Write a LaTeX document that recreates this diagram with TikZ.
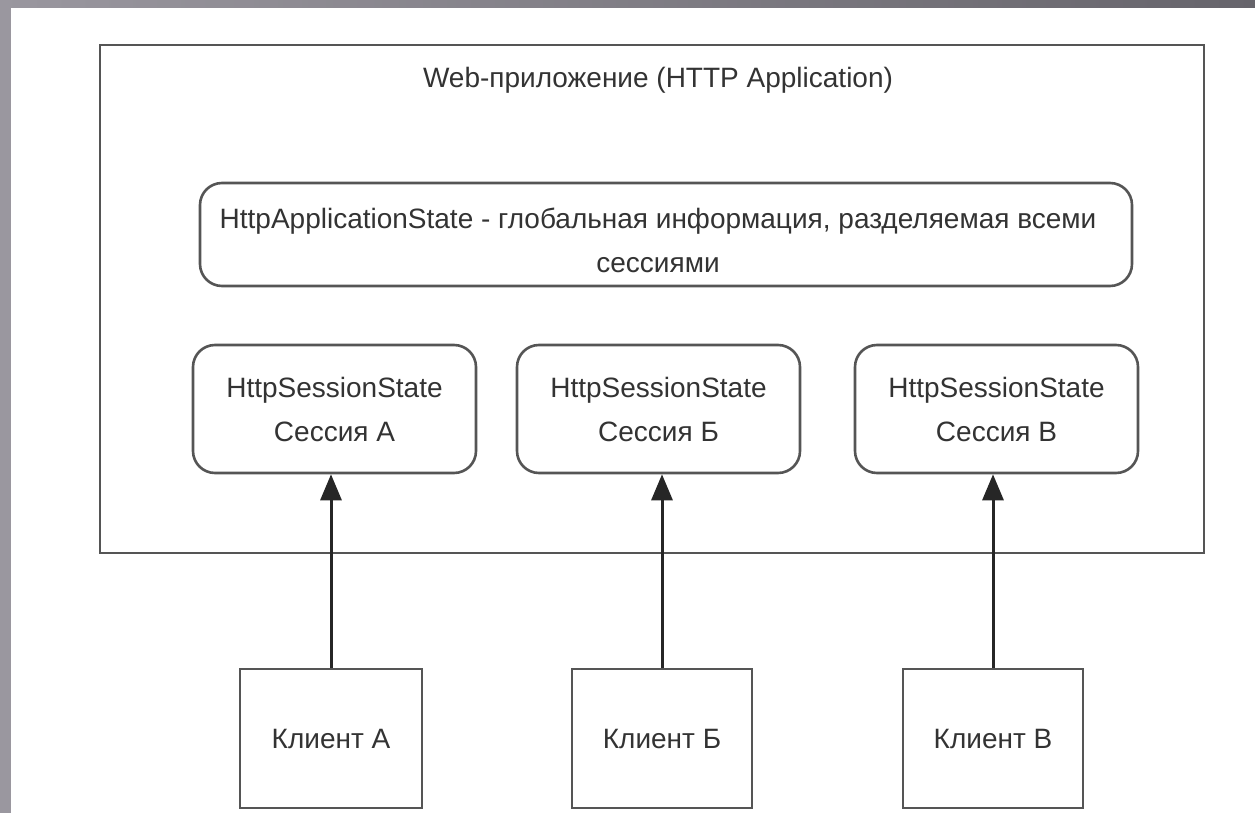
\documentclass[tikz,border=0pt]{standalone}
\usepackage{fontspec}
\setmainfont{Liberation Sans}
\usetikzlibrary{arrows.meta}
\definecolor{framegray}{HTML}{9A979F}
\definecolor{framedark}{HTML}{66646B}
\definecolor{linegray}{HTML}{555555}
\definecolor{textgray}{HTML}{333333}
\tikzset{
  box/.style={draw=linegray, line width=2.6pt, text=textgray, align=center, inner sep=0pt,
    font=\fontsize{28}{44}\selectfont},
  rbox/.style={box, rounded corners=22pt},
  lbl/.style={text=textgray, font=\fontsize{28}{44}\selectfont, inner sep=0pt},
  link/.style={draw=black!85, line width=3pt, -{Triangle[length=26pt,width=21pt]}}
}
\begin{document}
\begin{tikzpicture}[x=1pt,y=-1pt]
  % slide frame
  \useasboundingbox (0,0) rectangle (1255,813);
  \shade[left color=framegray, right color=framedark] (0,0) rectangle (1255,8);
  \fill[framegray] (0,0) rectangle (11,813);
  \fill[white] (11,8) rectangle (1255,813);
  % application
  \node[box, minimum width=1104pt, minimum height=508pt] (web) at (652,299) {};
  \node[lbl] (webtitle) at (658,80) {Web-приложение (HTTP Application)};
  \node[rbox, minimum width=932pt, minimum height=103pt]
    (appstate) at (666,234.5) {};
  \node[lbl, align=center] (apptext) at (658,240) {HttpApplicationState - глобальная информация, разделяемая всеми\\сессиями};
  % sessions
  \node[rbox, minimum width=283pt, minimum height=128pt] (sessA) at (334.5,409) {HttpSessionState\\Сессия А};
  \node[rbox, minimum width=283pt, minimum height=128pt] (sessB) at (658.5,409) {HttpSessionState\\Сессия Б};
  \node[rbox, minimum width=283pt, minimum height=128pt] (sessC) at (996.5,409) {HttpSessionState\\Сессия В};
  % clients
  \node[box, minimum width=182pt, minimum height=139pt] (cliA) at (331,738.5) {Клиент А};
  \node[box, minimum width=180pt, minimum height=139pt] (cliB) at (662,738.5) {Клиент Б};
  \node[box, minimum width=180pt, minimum height=139pt] (cliC) at (993,738.5) {Клиент В};
  \draw[link] (cliA.north) -- (cliA.north |- sessA.south);
  \draw[link] (cliB.north) -- (cliB.north |- sessB.south);
  \draw[link] (cliC.north) -- (cliC.north |- sessC.south);
\end{tikzpicture}
\end{document}
